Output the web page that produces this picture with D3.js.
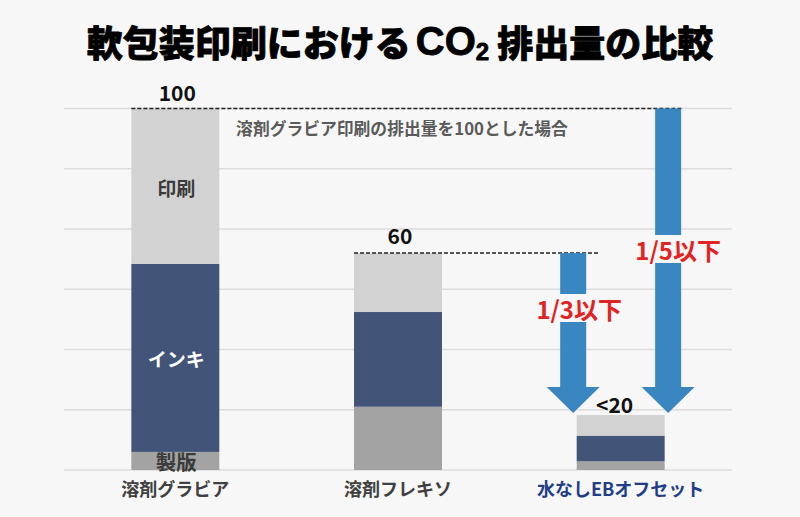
<!DOCTYPE html>
<html><head><meta charset="utf-8">
<script src="https://cdn.jsdelivr.net/npm/d3@7"></script>
<style>
html,body{margin:0;padding:0;background:#f7f7f7;}
svg{display:block;}
text{font-family:"Noto Sans CJK JP","Noto Sans",sans-serif;}
</style></head>
<body>
<svg id="chart" width="800" height="517"></svg>
<script>
// ---- data ----
const categories = ["溶剤グラビア", "溶剤フレキソ", "水なしEBオフセット"];
const platemaking = [5, 17.5, 2.4];     // 製版
const ink = [52, 26.2, 7.1];            // インキ
const printing = [43, 16.3, 5.7];       // 印刷
const totalLabels = ["100", "60", "<20"];
const gridTicks = [0, 16.67, 33.33, 50, 66.67, 83.33, 100];
const seriesNames = ["製版", "インキ", "印刷"];
const arrowFrom = [60, 100];
const arrowTo = [15.8, 15.8];
const arrowLabels = ["1/3以下", "1/5以下"];
const referenceLevels = [100, 60];
const title = ["軟包装印刷における", "CO", "2", "排出量の比較"];
const note = "溶剤グラビア印刷の排出量を100とした場合";

// ---- layout ----
const svg = d3.select("#chart");
svg.append("rect").attr("width", 800).attr("height", 517).attr("fill", "#f7f7f7");

const x = d3.scaleBand().domain(categories).range([64, 732]).paddingInner(0.605).paddingOuter(0.3025);
const y = d3.scaleLinear().domain([0, 100]).range([470, 108.5]);

// gridlines
svg.append("g").selectAll("line").data(gridTicks).join("line")
  .attr("x1", 64).attr("x2", 732)
  .attr("y1", d => y(d)).attr("y2", d => y(d))
  .attr("stroke", "#dcdcdc").attr("stroke-width", 1.5);

// stacked bars
const table = categories.map((c, i) => ({cat: c, "製版": platemaking[i], "インキ": ink[i], "印刷": printing[i]}));
const stack = d3.stack().keys(seriesNames)(table);
const colors = {"製版": "#a3a3a3", "インキ": "#435479", "印刷": "#d2d2d2"};
svg.append("g").selectAll("g").data(stack).join("g")
  .attr("fill", s => colors[s.key])
  .selectAll("rect").data(s => s).join("rect")
  .attr("x", d => x(d.data.cat)).attr("width", x.bandwidth())
  .attr("y", d => y(d[1])).attr("height", d => y(d[0]) - y(d[1]));

// segment labels on first bar
const segStyle = {"製版": "#3b3b3b", "インキ": "#ffffff", "印刷": "#3b3b3b"};
stack.forEach(s => {
  const d = s[0];
  svg.append("text")
    .attr("x", x(categories[0]) + x.bandwidth() / 2 + 1)
    .attr("y", (y(d[0]) + y(d[1])) / 2 + (s.key === "製版" ? 0 : 1))
    .attr("text-anchor", "middle").attr("dominant-baseline", "central")
    .attr("font-size", s.key === "製版" ? 20.5 : 19).attr("font-weight", "bold")
    .attr("fill", segStyle[s.key]).text(s.key);
});

// reference dashed lines
const refEnds = [682, 600];
const refStarts = [x(categories[0]), x(categories[1])];
referenceLevels.forEach((v, i) => {
  svg.append("line")
    .attr("x1", refStarts[i]).attr("x2", refEnds[i])
    .attr("y1", y(v)).attr("y2", y(v))
    .attr("stroke", "#222").attr("stroke-width", 1.5).attr("stroke-dasharray", "4,2");
});

// totals
const totals = categories.map((c, i) => platemaking[i] + ink[i] + printing[i]);
const totalDx = [2, 2, -6], totalDy = [-17, -18, -11];
svg.append("g").selectAll("text").data(categories).join("text")
  .attr("x", (c, i) => x(c) + x.bandwidth() / 2 + totalDx[i])
  .attr("y", (c, i) => y(totals[i]) + totalDy[i])
  .attr("text-anchor", "middle").attr("dominant-baseline", "central")
  .attr("font-size", 21).attr("font-weight", "bold").attr("fill", "#111")
  .text((c, i) => totalLabels[i]);

// arrows
const eb = categories[2];
const arrowX = [x(eb) - 3.5, x(eb) + x.bandwidth() + 3.5];
const labelY = [308, 249];
const labelDx = [6, 10];
const shaftW = 26, headW = 53, headH = 26;
arrowFrom.forEach((v, i) => {
  const cx = arrowX[i], top = y(v), tip = y(arrowTo[i]), headTop = tip - headH;
  const g = svg.append("g").attr("fill", "#3a86c0");
  g.append("rect").attr("x", cx - shaftW / 2).attr("width", shaftW)
    .attr("y", top).attr("height", labelY[i] - 14 - top);
  g.append("rect").attr("x", cx - shaftW / 2).attr("width", shaftW)
    .attr("y", labelY[i] + 14).attr("height", headTop - (labelY[i] + 14) + 0.5);
  g.append("path").attr("d", `M${cx - headW / 2},${headTop}L${cx + headW / 2},${headTop}L${cx},${tip}Z`);
  svg.append("text").attr("x", cx + labelDx[i]).attr("y", labelY[i])
    .attr("text-anchor", "middle").attr("dominant-baseline", "central")
    .attr("font-size", 24).attr("font-weight", "bold").attr("fill", "#e02424")
    .text(arrowLabels[i]);
});

// note
svg.append("text").attr("x", 402).attr("y", 128)
  .attr("text-anchor", "middle").attr("dominant-baseline", "central")
  .attr("font-size", 16.8).attr("font-weight", "bold").attr("fill", "#5a5a5a")
  .text(note);

// category labels
svg.append("g").selectAll("text").data(categories).join("text")
  .attr("x", c => x(c) + x.bandwidth() / 2)
  .attr("y", 488)
  .attr("text-anchor", "middle").attr("dominant-baseline", "central")
  .attr("font-size", 18).attr("font-weight", "bold")
  .attr("fill", (c, i) => i === 2 ? "#1f3e86" : "#404040")
  .text(c => c);

// title
const t = svg.append("text").attr("x", 400).attr("y", 41)
  .attr("text-anchor", "middle").attr("dominant-baseline", "central")
  .attr("font-size", 36).attr("font-weight", 900).attr("fill", "#000")
  .attr("stroke", "#000").attr("stroke-width", 0.8).attr("stroke-linejoin", "round");
t.append("tspan").text(title[0]);
t.append("tspan").attr("dx", 5).attr("font-family", "Liberation Sans, Arial, sans-serif")
  .attr("font-weight", "bold").attr("font-size", 40).text(title[1]);
t.append("tspan").attr("font-family", "Liberation Sans, Arial, sans-serif")
  .attr("font-weight", "bold").attr("font-size", 24).attr("dy", 10).text(title[2]);
t.append("tspan").attr("dx", 8).attr("dy", -10).text(title[3]);
</script>
</body></html>
